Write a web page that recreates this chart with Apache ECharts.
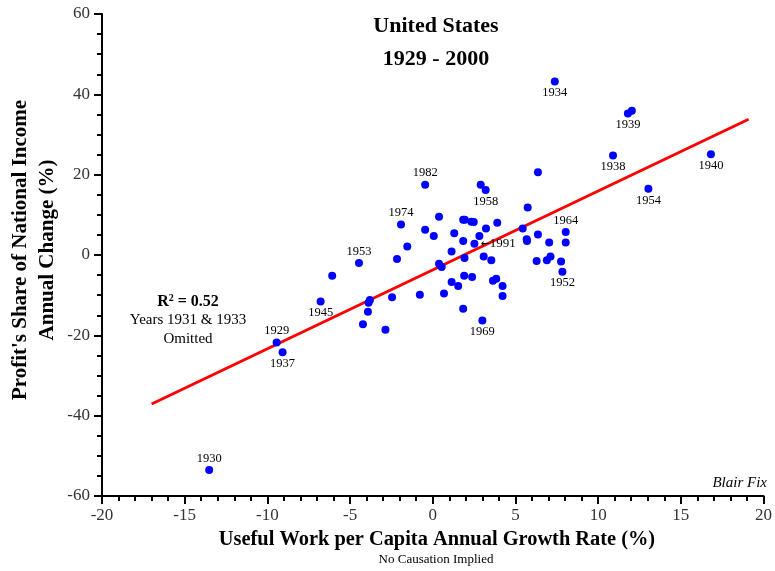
<!DOCTYPE html>
<html>
    <head>
        <meta charset="utf-8">
        <script src="https://cdn.jsdelivr.net/npm/echarts@6/dist/echarts.min.js"></script>
    </head>
    <body>
        <style>
            html, body{
                width: 100%;
                height: 100%;
                margin: 0;
                background: #fff;
            }
            #main{
                width: 775px;
                height: 571px;
            }
        </style>
        <div id="main"></div>
        <script>
            // useful work per capita growth (%) and profit share change (%), one entry per year
            var workGrowth = [
                -9.44, -13.52, 7.38, -9.08, 10.9, 11.8, 12.04, 16.82, 13.04, 6.36,
                5.74, 5.44, 5.68, 5.7, 6.36, 7.04, 8.04, 8.04, 6.28, 6.9,
                7.12, 7.76, 7.84, -0.46, 2.9, 3.2, -1.92, 0.38, -0.46, 0.06,
                -1.54, -2.16, -4.46, -6.08, -6.78, -3.8, -3.88, -3.92, -4.22, -2.86,
                -2.46, -0.78, 0.38, 0.54, 0.68, 1.14, 1.54, 1.84, 1.14, 1.3,
                1.84, 1.94, 2.34, 2.48, 1.84, 1.92, 1.9, 2.38, 2.52, 2.82,
                3.22, 3.9, 3.08, 3.54, 3.64, 3.84, 4.22, 4.22, 3.0
            ];
            var profitChange = [
                -21.8, -53.5, 43.2, -24.2, 24.8, 35.2, 35.9, 25.1, 16.5, 20.6,
                11.8, 6.6, 3.9, 3.5, 5.1, 3.1, 5.7, 3.1, -1.5, -1.3,
                -0.35, -1.6, -4.15, 17.5, 17.5, 16.2, 7.6, 9.5, 6.3, 4.7,
                2.1, -1.0, -2.0, -5.15, -11.6, -11.2, -11.9, -14.1, -17.25, -18.6,
                -10.5, -9.9, -2.2, -3.0, -9.6, -6.7, -7.7, -13.4, 0.9, 5.4,
                8.8, 8.8, 8.3, 8.2, 3.5, -0.75, -5.15, -5.5, 2.8, 4.7,
                6.6, 8.0, -0.4, -1.3, -6.4, -5.9, -7.7, -10.2, -16.3
            ];
            // year label for the marked points ('' = no label)
            var pointYear = [
                '1929', '1930', '1934', '1937', '1938', '1939', '', '1940', '1954', '',
                '', '', '', '', '', '', '1964', '', '', '',
                '', '', '1952', '1982', '', '1958', '1974', '', '', '',
                '', '', '1953', '', '1945', '', '', '', '', '',
                '', '', '', '', '', '', '', '', '', '',
                '', '', '', '', '', '', '', '', '1991', '',
                '', '', '', '', '', '', '', '', '1969'
            ];
            // least squares fit line end points
            var fitX = [-17.0, 19.1];
            var fitY = [-37.1, 33.8];

            var xTicks = { min: -20, max: 20, step: 5 };
            var yTicks = { min: -60, max: 60, step: 20 };

            var aboveYears = ['1929', '1930', '1953', '1964', '1974', '1982'];
            var serif = "'Liberation Serif', 'DejaVu Serif', serif";

            var points = [];
            for (var i = 0; i < workGrowth.length; i++) {
                var item = { value: [workGrowth[i], profitChange[i]] };
                var yr = pointYear[i];
                if (yr) {
                    if (yr == '1991') {
                        // arrow pointing back at the dot
                        item.label = {
                            show: true, position: 'right', distance: 2,
                            formatter: '{a|\u2190}{t|1991}',
                            rich: {
                                a: { fontFamily: 'DejaVu Sans', fontSize: 11, color: '#000' },
                                t: { fontFamily: serif, fontSize: 13, color: '#000' }
                            }
                        };
                    } else {
                        item.label = {
                            show: true,
                            position: aboveYears.indexOf(yr) >= 0 ? 'top' : 'bottom',
                            distance: 1,
                            formatter: yr
                        };
                    }
                }
                points.push(item);
            }
            var fitLine = [];
            for (var j = 0; j < fitX.length; j++) {
                fitLine.push([fitX[j], fitY[j]]);
            }

            var chart = echarts.init(document.getElementById('main'));
            var option = {
                animation: false,
                backgroundColor: '#fff',
                grid: { left: 102, right: 6, top: 14, bottom: 75 },
                xAxis: {
                    type: 'value',
                    min: xTicks.min,
                    max: xTicks.max,
                    interval: xTicks.step,
                    splitLine: { show: false },
                    axisLine: { onZero: false, lineStyle: { color: '#000', width: 2 } },
                    axisTick: { length: 8, lineStyle: { color: '#000', width: 2 } },
                    minorTick: { show: true, splitNumber: 5, length: 5, lineStyle: { color: '#000', width: 2 } },
                    axisLabel: { fontFamily: serif, fontSize: 17, color: '#333', margin: 11 }
                },
                yAxis: {
                    type: 'value',
                    min: yTicks.min,
                    max: yTicks.max,
                    interval: yTicks.step,
                    splitLine: { show: false },
                    axisLine: { onZero: false, lineStyle: { color: '#000', width: 2 } },
                    axisTick: { length: 8, lineStyle: { color: '#000', width: 2 } },
                    minorTick: { show: true, splitNumber: 4, length: 5, lineStyle: { color: '#000', width: 2 } },
                    axisLabel: { fontFamily: serif, fontSize: 17, color: '#333', margin: 12 }
                },
                graphic: [
                    {
                        type: 'text', x: 436, y: 43,
                        style: {
                            text: 'United States\n1929 - 2000', fontFamily: serif, fontSize: 22,
                            fontWeight: 'bold', lineHeight: 33, fill: '#000', align: 'center', verticalAlign: 'middle'
                        }
                    },
                    {
                        type: 'text', x: 437, y: 540,
                        style: {
                            text: 'Useful Work per Capita Annual Growth Rate (%)', fontFamily: serif, fontSize: 20.4,
                            fontWeight: 'bold', fill: '#000', align: 'center', verticalAlign: 'middle'
                        }
                    },
                    {
                        type: 'text', x: 436, y: 560,
                        style: {
                            text: 'No Causation Implied', fontFamily: serif, fontSize: 13,
                            fill: '#000', align: 'center', verticalAlign: 'middle'
                        }
                    },
                    {
                        type: 'text', x: 34, y: 250, rotation: Math.PI / 2,
                        style: {
                            text: "Profit's Share of National Income\nAnnual Change (%)", fontFamily: serif, fontSize: 21,
                            fontWeight: 'bold', lineHeight: 27, fill: '#000', align: 'center', verticalAlign: 'middle'
                        }
                    },
                    {
                        type: 'text', x: 188, y: 302,
                        style: {
                            rich: {
                                b: { fontFamily: serif, fontSize: 16, fontWeight: 'bold', fill: '#000' },
                                s: { fontFamily: serif, fontSize: 10, fontWeight: 'bold', fill: '#000', verticalAlign: 'top', padding: [0, 0, 8, 0] }
                            },
                            text: '{b|R}{s|2}{b| = 0.52}', align: 'center', verticalAlign: 'middle'
                        }
                    },
                    {
                        type: 'text', x: 188, y: 330,
                        style: {
                            text: 'Years 1931 & 1933\nOmitted', fontFamily: serif, fontSize: 15, lineHeight: 19,
                            fill: '#000', align: 'center', verticalAlign: 'middle'
                        }
                    },
                    {
                        type: 'text', x: 767, y: 483,
                        style: {
                            text: 'Blair Fix', fontFamily: serif, fontSize: 15, fontStyle: 'italic',
                            fill: '#000', align: 'right', verticalAlign: 'middle'
                        }
                    }
                ],
                series: [
                    {
                        type: 'line',
                        data: fitLine,
                        symbol: 'none',
                        lineStyle: { color: '#ff0000', width: 3 },
                        z: 2
                    },
                    {
                        type: 'scatter',
                        data: points,
                        symbolSize: 8,
                        itemStyle: { color: '#0000ff', opacity: 1 },
                        label: { fontFamily: serif, fontSize: 12.5, color: '#000' },
                        z: 3
                    }
                ]
            };
            chart.setOption(option);
            window.onresize = chart.resize;
        </script>
    </body>
</html>
